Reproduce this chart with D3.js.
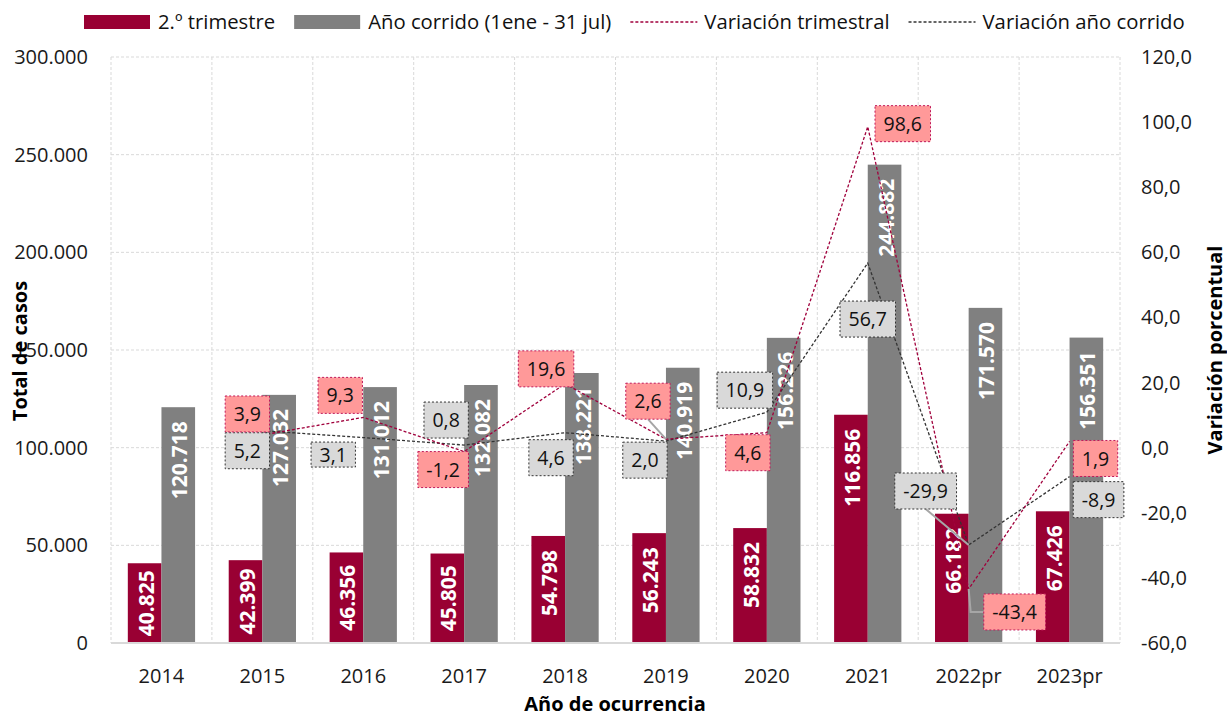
<!DOCTYPE html>
<html><head><meta charset="utf-8">
<script src="https://cdn.jsdelivr.net/npm/d3@7"></script>
<style>
html,body{margin:0;padding:0;background:#fff;}
svg{display:block;font-family:"Open Sans","Noto Sans",sans-serif;}
</style></head>
<body><svg id="chart" width="1227" height="719"></svg>
<script>
const categories = ["2014","2015","2016","2017","2018","2019","2020","2021","2022pr","2023pr"];
const trimestre = [40825,42399,46356,45805,54798,56243,58832,116856,66182,67426];
const anoCorrido = [120718,127032,131012,132082,138221,140919,156226,244882,171570,156351];
const varTrimestral = [null,3.9,9.3,-1.2,19.6,2.6,4.6,98.6,-43.4,1.9];
const varAnoCorrido = [null,5.2,3.1,0.8,4.6,2.0,10.9,56.7,-29.9,-8.9];
const leftTicks = [0,50000,100000,150000,200000,250000,300000];
const rightTicks = [-60,-40,-20,0,20,40,60,80,100,120];
const seriesNames = ["2.º trimestre","Año corrido (1ene - 31 jul)","Variación trimestral","Variación año corrido"];

// label placement (offsets from point, px) — layout only
const trimLabelPos = [null,[-15,-21],[-23,-22],[-21,18],[-19,-15],[-18,-38],[-19,20],[35,-3],[46,23],[26,17]];
const corrLabelPos = [null,[-15,20],[-30,17],[-18,-25],[-14,25],[-21,19],[-22,-22],[0,56],[-43,-54],[29,23]];
const trimLeader = {5:"bottom",8:"elbow"};
const corrLeader = {8:"bottom"};
const corrBoxH = {2:25};

const svg = d3.select("#chart");
const L = 111, R = 1120, T = 57, B = 643;
const red = "#990033", gray = "#808080";

const loc = d3.formatLocale({decimal:",", thousands:".", grouping:[3], currency:["",""], minus:"-"});
const fInt = loc.format(",.0f"), fDec = loc.format(".1f");

const x = d3.scaleBand().domain(categories).range([L,R]).padding(0);
const xs = d3.scaleBand().domain([0,1]).range([0,x.bandwidth()]).paddingInner(0).paddingOuter(0.5);
const yL = d3.scaleLinear().domain([0,300000]).range([B,T]);
const yR = d3.scaleLinear().domain([-60,120]).range([B,T]);

// grid
const g = svg.append("g");
g.selectAll("line.h").data(leftTicks.filter(d=>d>0)).join("line")
  .attr("x1",L).attr("x2",R).attr("y1",d=>yL(d)).attr("y2",d=>yL(d))
  .attr("stroke","#d9d9d9").attr("stroke-width",1).attr("stroke-dasharray","3,2");
const vlines = categories.map(c=>x(c)).concat([R]);
g.selectAll("line.v").data(vlines).join("line")
  .attr("x1",d=>d).attr("x2",d=>d).attr("y1",T).attr("y2",B)
  .attr("stroke","#d9d9d9").attr("stroke-width",1).attr("stroke-dasharray","3,2");

// bars
const barData = [];
categories.forEach((c,i)=>{
  barData.push({c, s:0, v:trimestre[i]});
  barData.push({c, s:1, v:anoCorrido[i]});
});
svg.append("g").selectAll("rect").data(barData).join("rect")
  .attr("x",d=>x(d.c)+xs(d.s)).attr("width",xs.bandwidth())
  .attr("y",d=>yL(d.v)).attr("height",d=>B-yL(d.v))
  .attr("fill",d=>d.s===0?red:gray);

// baseline axis
svg.append("line").attr("x1",L).attr("x2",R).attr("y1",B).attr("y2",B)
  .attr("stroke","#d9d9d9").attr("stroke-width",2);

// bar labels (inside end)
const bl = svg.append("g");
barData.forEach(d=>{
  const t = bl.append("text")
    .attr("text-anchor","end").attr("dominant-baseline","central")
    .attr("fill","#fff").attr("font-weight","bold").attr("font-size","21px")
    .text(fInt(d.v));
  const len = t.node().getComputedTextLength();
  const hgt = B - yL(d.v);
  const pad = Math.max(2, Math.min(14, (hgt - len)/2));
  t.attr("transform",`translate(${x(d.c)+xs(d.s)+xs.bandwidth()/2+1},${yL(d.v)+pad}) rotate(-90)`);
});

// axes tick labels
svg.append("g").selectAll("text").data(leftTicks).join("text")
  .attr("x",88).attr("y",d=>yL(d)).attr("dy","0.35em").attr("text-anchor","end")
  .attr("font-size","20px").attr("fill","#1a1a1a").text(d=>fInt(d));
svg.append("g").selectAll("text").data(rightTicks).join("text")
  .attr("x",1141).attr("y",d=>yR(d)).attr("dy","0.35em").attr("text-anchor","start")
  .attr("font-size","20px").attr("fill","#1a1a1a").text(d=>fDec(d));
svg.append("g").selectAll("text").data(categories).join("text")
  .attr("x",d=>x(d)+x.bandwidth()/2).attr("y",683).attr("text-anchor","middle")
  .attr("font-size","20px").attr("fill","#1a1a1a").text(d=>d);

// axis titles
svg.append("text").attr("transform","translate(27,351) rotate(-90)").attr("text-anchor","middle")
  .attr("font-size","20px").attr("font-weight","bold").attr("fill","#000").text("Total de casos");
svg.append("text").attr("transform","translate(1222,350) rotate(-90)").attr("text-anchor","middle")
  .attr("font-size","20px").attr("font-weight","bold").attr("fill","#000").text("Variación porcentual");
svg.append("text").attr("x",615).attr("y",711).attr("text-anchor","middle")
  .attr("font-size","20px").attr("font-weight","bold").attr("fill","#000").text("Año de ocurrencia");

// lines
const cx = i => x(categories[i]) + x.bandwidth()/2;
const line = d3.line().defined(d=>d.v!==null).x(d=>cx(d.i)).y(d=>yR(d.v));
const trimPts = varTrimestral.map((v,i)=>({v,i}));
const corrPts = varAnoCorrido.map((v,i)=>({v,i}));
svg.append("path").datum(corrPts).attr("d",line).attr("fill","none")
  .attr("stroke","#333").attr("stroke-width",1.3).attr("stroke-dasharray","3,2");
svg.append("path").datum(trimPts).attr("d",line).attr("fill","none")
  .attr("stroke","#a0003c").attr("stroke-width",1.3).attr("stroke-dasharray","3,2");

// value labels with boxes
function drawLabels(pts, pos, leaders, fill, stroke, hOverride){
  const lg = svg.append("g");
  pts.forEach(p=>{
    if(p.v===null) return;
    const px = cx(p.i), py = yR(p.v);
    const bx = px + pos[p.i][0], by = py + pos[p.i][1];
    const t = lg.append("text").attr("x",bx).attr("y",by).attr("dy","0.36em")
      .attr("text-anchor","middle").attr("font-size","19.5px").attr("fill","#111").text(fDec(p.v));
    const tw = t.node().getComputedTextLength();
    const w = tw + 17, h = (hOverride && hOverride[p.i]) || 36;
    const lead = leaders[p.i];
    if(lead==="bottom"){
      lg.insert("line","text").attr("x1",bx).attr("y1",by+h/2).attr("x2",px).attr("y2",py)
        .attr("stroke","#a6a6a6").attr("stroke-width",2);
    } else if(lead==="elbow"){
      lg.insert("polyline","text").attr("points",`${px},${py} ${px+2},${by} ${bx-w/2},${by}`)
        .attr("fill","none").attr("stroke","#a6a6a6").attr("stroke-width",2);
    }
    lg.insert("rect","text").attr("x",bx-w/2).attr("y",by-h/2).attr("width",w).attr("height",h)
      .attr("fill",fill).attr("stroke",stroke).attr("stroke-width",1).attr("stroke-dasharray","2,2");
  });
}
drawLabels(corrPts, corrLabelPos, corrLeader, "#d9d9d9", "#333", corrBoxH);
drawLabels(trimPts, trimLabelPos, trimLeader, "#ff9999", "#c0185a", null);

// legend
const leg = svg.append("g");
let lx = 84;
const ly = 22;
seriesNames.forEach((n,i)=>{
  if(i<2){
    leg.append("rect").attr("x",lx).attr("y",ly-7).attr("width",66).attr("height",14).attr("fill",i===0?red:gray);
  } else {
    leg.append("line").attr("x1",lx).attr("x2",lx+67).attr("y1",ly).attr("y2",ly)
      .attr("stroke",i===2?"#a0003c":"#333").attr("stroke-width",1.3).attr("stroke-dasharray","3,2");
  }
  const t = leg.append("text").attr("x",lx+74).attr("y",ly).attr("dy","0.35em")
    .attr("font-size","20.3px").attr("fill","#111").text(n);
  lx = lx + 74 + t.node().getComputedTextLength() + 19;
});
</script></body></html>
